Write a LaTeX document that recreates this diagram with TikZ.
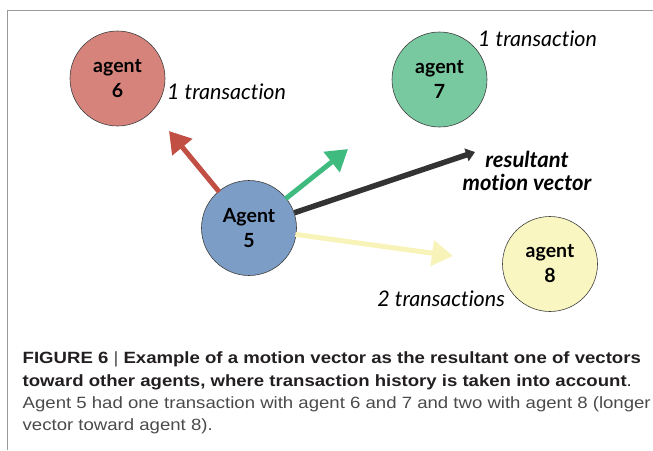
\documentclass[tikz,border=0pt]{standalone}
\usepackage{fontspec}
\setmainfont{Lato}[Ligatures=NoCommon]
\newfontfamily\capfont{Liberation Sans}[FakeStretch=1.14]
\usetikzlibrary{arrows.meta}
\definecolor{fill6}{HTML}{D6837B}
\definecolor{fill7}{HTML}{78C8A0}
\definecolor{fill5}{HTML}{7B9DC6}
\definecolor{fill8}{HTML}{FAF6C2}
\definecolor{arrred}{HTML}{C24F44}
\definecolor{arrgreen}{HTML}{40BB80}
\definecolor{arrdark}{HTML}{333333}
\definecolor{arryellow}{HTML}{F8F3B8}
\definecolor{captxt}{HTML}{231F20}
\definecolor{capgray}{HTML}{4A4A4A}
\definecolor{framegray}{HTML}{9A9A9A}
\tikzset{
  agent/.style={circle, draw=black!75, line width=0.6pt, minimum size=95pt, inner sep=0pt,
    align=center, font=\fontsize{19.5}{25}\selectfont\bfseries},
  lbl/.style={font=\fontsize{21.5}{24}\selectfont\itshape, inner sep=0pt},
  vec/.style={line width=5pt, -{Triangle[length=21pt,width=25pt]}, shorten <=-1pt},
  capline/.style={anchor=base west, inner sep=0pt, font=\capfont\fontsize{16.3}{22}\selectfont}
}
\begin{document}
\begin{tikzpicture}[x=1pt,y=-1pt]
\useasboundingbox (0,0) rectangle (653,450);
% frame
\draw[framegray, line width=1.4pt] (7.5,450) -- (7.5,10.5) -- (653,10.5);
% agents
\node[agent, fill=fill6] (a6) at (117.5,78.5) {agent\\6};
\node[agent, fill=fill7] (a7) at (439.5,79.5) {agent\\7};
\node[agent, fill=fill5] (a5) at (249,228) {Agent\\5};
\node[agent, fill=fill8] (a8) at (550,264) {agent\\8};
% tips
\coordinate (t6) at (169,131);
\coordinate (t7) at (348,149);
\coordinate (tr) at (475,152);
\coordinate (t8) at (453,256);
% vectors
\draw[vec, arryellow] (a5) -- (t8);
\draw[vec, arrred] (a5) -- (t6);
\draw[vec, arrgreen] (a5) -- (t7);
\draw[line width=5.5pt, arrdark, -{Triangle[length=9pt,width=13pt]}] (a5) -- (tr);
% labels
\node[lbl, anchor=west] (l6) at (167,92) {1 transaction};
\node[lbl, anchor=west] (l7) at (478,39) {1 transaction};
\node[lbl, anchor=east] (l8) at (505,299) {2 transactions};
\node[font=\fontsize{22}{22.5}\selectfont\bfseries\itshape, align=center, inner sep=0pt] (lr) at (527,171) {resultant\\motion vector};
% caption
\node[capline, text=captxt] (c1) at (22.5,363.5) {\bfseries FIGURE 6 {\mdseries\color{capgray}|} Example of a motion vector as the resultant one of vectors};
\node[capline, text=captxt] (c2) at (22.5,386) {\bfseries toward other agents, where transaction history is taken into account{\mdseries.}};
\node[capline, text=capgray] (c3) at (22.5,408) {Agent 5 had one transaction with agent 6 and 7 and two with agent 8 (longer};
\node[capline, text=capgray] (c4) at (22.5,430) {vector toward agent 8).};
\end{tikzpicture}
\end{document}
